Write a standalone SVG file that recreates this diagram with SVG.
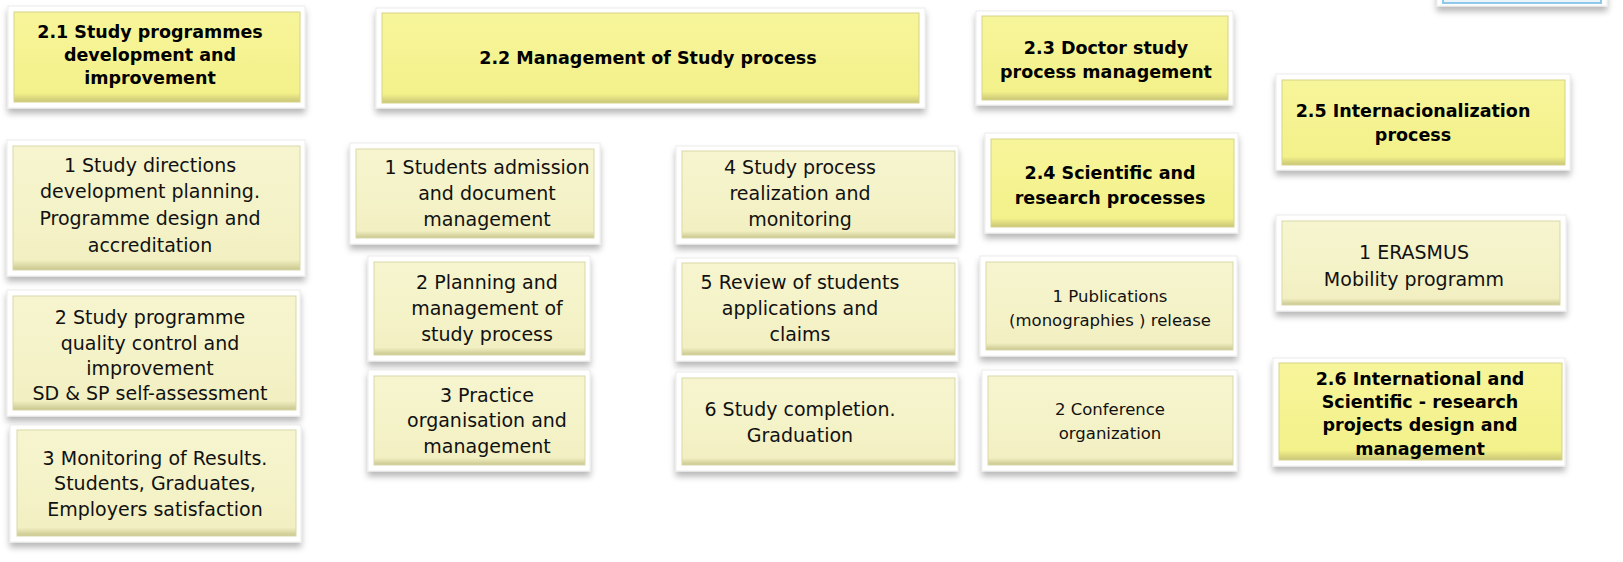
<svg xmlns="http://www.w3.org/2000/svg" width="1623" height="562" viewBox="0 0 1623 562">
<defs>
<filter id="sh" x="-10%" y="-20%" width="120%" height="150%">
<feDropShadow dx="0" dy="5" stdDeviation="3" flood-color="#000" flood-opacity="0.28"/>
</filter>
<linearGradient id="gH" x1="0" y1="0" x2="0" y2="1">
<stop offset="0" stop-color="#f7f59a"/><stop offset="0.9" stop-color="#f3f18a"/><stop offset="1" stop-color="#c9c677"/>
</linearGradient>
<linearGradient id="gS" x1="0" y1="0" x2="0" y2="1">
<stop offset="0" stop-color="#f7f5cf"/><stop offset="0.92" stop-color="#f2f0c2"/><stop offset="1" stop-color="#c9c68e"/>
</linearGradient>
</defs>
<style>
.fr{fill:#fff;stroke:#ececec;stroke-width:1;filter:url(#sh)}
.h{fill:url(#gH);stroke:#d6d38a;stroke-width:1}
.s{fill:url(#gS);stroke:#d9d7a8;stroke-width:1}
.th{font-family:"DejaVu Sans",Verdana,sans-serif;font-weight:bold;font-size:17.5px;fill:#000;text-anchor:middle}
.ts{font-family:"DejaVu Sans",Verdana,sans-serif;font-size:19px;fill:#111;text-anchor:middle}
.tm{font-family:"DejaVu Sans",Verdana,sans-serif;font-size:16.5px;fill:#111;text-anchor:middle}
</style>
<rect width="1623" height="562" fill="#fff"/>
<g id="connectors"/>

<g id="top-partial">
<rect class="fr" x="1437" y="-40" width="170" height="46"/>
<rect x="1443" y="-40" width="158" height="43" fill="#e9f4fb" stroke="#8ec8ea" stroke-width="2"/>
</g>

<g id="n21">
<rect class="fr" x="8" y="6" width="297" height="102"/>
<rect class="h" x="14" y="12" width="286" height="90"/>
<text class="th" x="150" y="38">2.1 Study programmes</text>
<text class="th" x="150" y="61">development and</text>
<text class="th" x="150" y="84">improvement</text>
</g>

<g id="n22">
<rect class="fr" x="376" y="8" width="549" height="100"/>
<rect class="h" x="382" y="13" width="537" height="90"/>
<text class="th" x="648" y="64">2.2 Management of Study process</text>
</g>

<g id="n23">
<rect class="fr" x="976" y="11" width="257" height="94"/>
<rect class="h" x="982" y="16" width="246" height="84"/>
<text class="th" x="1106" y="54">2.3 Doctor study</text>
<text class="th" x="1106" y="78">process management</text>
</g>

<g id="n25">
<rect class="fr" x="1276" y="74" width="294" height="96"/>
<rect class="h" x="1282" y="80" width="283" height="85"/>
<text class="th" x="1413" y="117">2.5 Internacionalization</text>
<text class="th" x="1413" y="141">process</text>
</g>

<g id="n21-1">
<rect class="fr" x="7" y="140" width="298" height="136"/>
<rect class="s" x="13" y="146" width="287" height="124"/>
<text class="ts" x="150" y="172">1 Study directions</text>
<text class="ts" x="150" y="198">development planning.</text>
<text class="ts" x="150" y="225">Programme design and</text>
<text class="ts" x="150" y="252">accreditation</text>
</g>

<g id="n21-2">
<rect class="fr" x="7" y="290" width="293" height="126"/>
<rect class="s" x="13" y="296" width="283" height="114"/>
<text class="ts" x="150" y="324">2 Study programme</text>
<text class="ts" x="150" y="350">quality control and</text>
<text class="ts" x="150" y="375">improvement</text>
<text class="ts" x="150" y="400">SD &amp; SP self-assessment</text>
</g>

<g id="n21-3">
<rect class="fr" x="10" y="425" width="291" height="117"/>
<rect class="s" x="17" y="430" width="279" height="106"/>
<text class="ts" x="155" y="465">3 Monitoring of Results.</text>
<text class="ts" x="155" y="490">Students, Graduates,</text>
<text class="ts" x="155" y="516">Employers satisfaction</text>
</g>

<g id="n22-1">
<rect class="fr" x="350" y="143" width="250" height="101"/>
<rect class="s" x="356" y="149" width="238" height="89"/>
<text class="ts" x="487" y="174">1 Students admission</text>
<text class="ts" x="487" y="200">and document</text>
<text class="ts" x="487" y="226">management</text>
</g>

<g id="n22-2">
<rect class="fr" x="368" y="256" width="222" height="105"/>
<rect class="s" x="374" y="262" width="211" height="93"/>
<text class="ts" x="487" y="289">2 Planning and</text>
<text class="ts" x="487" y="315">management of</text>
<text class="ts" x="487" y="341">study process</text>
</g>

<g id="n22-3">
<rect class="fr" x="368" y="370" width="222" height="101"/>
<rect class="s" x="374" y="376" width="211" height="89"/>
<text class="ts" x="487" y="402">3 Practice</text>
<text class="ts" x="487" y="427">organisation and</text>
<text class="ts" x="487" y="453">management</text>
</g>

<g id="n22-4">
<rect class="fr" x="676" y="146" width="282" height="98"/>
<rect class="s" x="682" y="151" width="273" height="87"/>
<text class="ts" x="800" y="174">4 Study process</text>
<text class="ts" x="800" y="200">realization and</text>
<text class="ts" x="800" y="226">monitoring</text>
</g>

<g id="n22-5">
<rect class="fr" x="676" y="258" width="282" height="103"/>
<rect class="s" x="682" y="263" width="273" height="92"/>
<text class="ts" x="800" y="289">5 Review of students</text>
<text class="ts" x="800" y="315">applications and</text>
<text class="ts" x="800" y="341">claims</text>
</g>

<g id="n22-6">
<rect class="fr" x="676" y="372" width="282" height="99"/>
<rect class="s" x="682" y="378" width="273" height="87"/>
<text class="ts" x="800" y="416">6 Study completion.</text>
<text class="ts" x="800" y="442">Graduation</text>
</g>

<g id="n24">
<rect class="fr" x="985" y="133" width="253" height="100"/>
<rect class="h" x="991" y="139" width="243" height="88"/>
<text class="th" x="1110" y="179">2.4 Scientific and</text>
<text class="th" x="1110" y="204">research processes</text>
</g>

<g id="n24-1">
<rect class="fr" x="980" y="256" width="257" height="100"/>
<rect class="s" x="986" y="262" width="247" height="88"/>
<text class="tm" x="1110" y="302">1 Publications</text>
<text class="tm" x="1110" y="326">(monographies ) release</text>
</g>

<g id="n24-2">
<rect class="fr" x="982" y="370" width="255" height="101"/>
<rect class="s" x="988" y="376" width="245" height="89"/>
<text class="tm" x="1110" y="415">2 Conference</text>
<text class="tm" x="1110" y="439">organization</text>
</g>

<g id="n25-1">
<rect class="fr" x="1276" y="215" width="290" height="96"/>
<rect class="s" x="1282" y="221" width="278" height="84"/>
<text class="ts" x="1414" y="259">1 ERASMUS</text>
<text class="ts" x="1414" y="286">Mobility programm</text>
</g>

<g id="n26">
<rect class="fr" x="1273" y="358" width="292" height="108"/>
<rect class="h" x="1279" y="363" width="283" height="97"/>
<text class="th" x="1420" y="385">2.6 International and</text>
<text class="th" x="1420" y="408">Scientific - research</text>
<text class="th" x="1420" y="431">projects design and</text>
<text class="th" x="1420" y="455">management</text>
</g>
</svg>
